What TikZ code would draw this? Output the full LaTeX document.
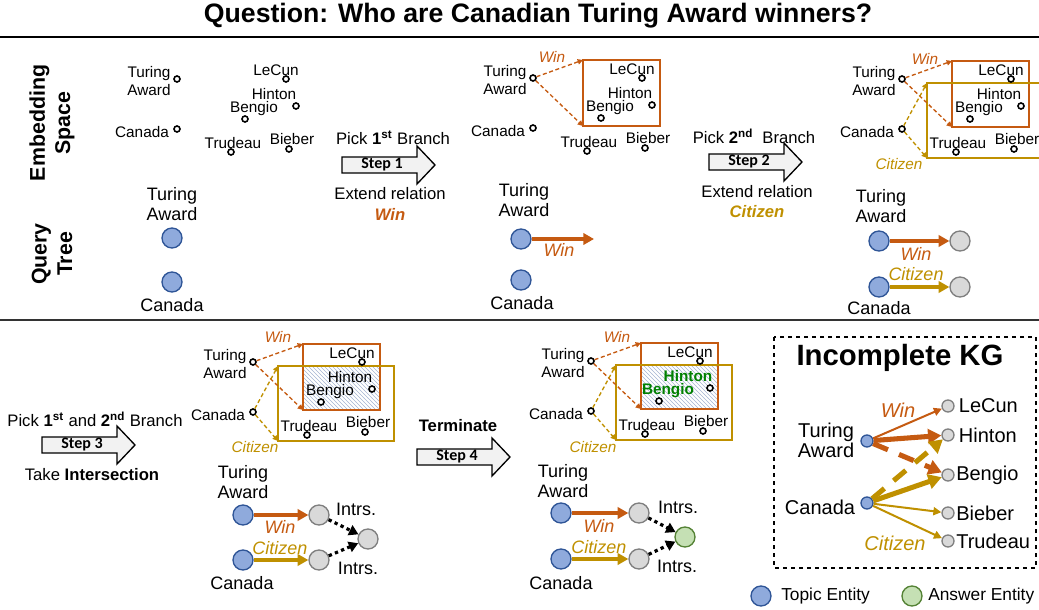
\documentclass[tikz,border=0pt]{standalone}
\usepackage{fontspec}
\setmainfont{Liberation Sans}
\newfontfamily\stepfont{Carlito}
\usetikzlibrary{arrows.meta,patterns,positioning,backgrounds}

\definecolor{winc}{RGB}{197,90,17}
\definecolor{citc}{RGB}{191,144,0}
\definecolor{topicfill}{RGB}{143,170,220}
\definecolor{topicline}{RGB}{47,85,151}
\definecolor{varfill}{RGB}{217,217,217}
\definecolor{varline}{RGB}{127,127,127}
\definecolor{ansfill}{RGB}{197,224,180}
\definecolor{ansline}{RGB}{84,130,53}
\definecolor{anstext}{RGB}{0,128,0}
\definecolor{hatchc}{RGB}{165,180,210}
\definecolor{stepfill}{RGB}{242,242,242}

\tikzset{
  emb/.style={font=\fontsize{11.5}{14}\selectfont, inner sep=0pt, align=center},
  ans/.style={emb, font=\fontsize{11.5}{14}\selectfont\bfseries, text=anstext},
  edot/.style={circle, draw, line width=1.2pt, fill=white, inner sep=0pt, minimum size=4.5pt},
  qlab/.style={font=\fontsize{13.5}{15}\selectfont, inner sep=0pt, align=center},
  topic/.style={circle, draw=topicline, fill=topicfill, line width=1pt, inner sep=0pt, minimum size=15pt},
  var/.style={topic, draw=varline, fill=varfill},
  answer/.style={topic, draw=ansline, fill=ansfill},
  winarr/.style={draw=winc, line width=2.6pt, -{Triangle[length=8pt,width=8.5pt]}},
  citarr/.style={winarr, draw=citc},
  intarr/.style={draw=black, line width=2.4pt, dash pattern=on 2.5pt off 2.5pt, -{Triangle[length=7pt,width=8pt]}},
  windash/.style={draw=winc, line width=1pt, dash pattern=on 3pt off 2pt, -{Triangle[length=4pt,width=4pt]}},
  citdash/.style={windash, draw=citc},
  winbox/.style={draw=winc, line width=1.5pt},
  citbox/.style={draw=citc, line width=1.5pt},
  wlab/.style={font=\fontsize{11.5}{12}\selectfont\itshape, text=winc, inner sep=0pt},
  clab/.style={wlab, text=citc},
  qwin/.style={font=\fontsize{13.5}{15}\selectfont\itshape, text=winc, inner sep=0pt},
  qcit/.style={qwin, text=citc},
  stepbox/.style={draw, line width=1pt, fill=stepfill},
  steptext/.style={font=\stepfont\bfseries\fontsize{12}{12}\selectfont, inner sep=0pt},
  note/.style={font=\fontsize{12.5}{14}\selectfont, inner sep=0pt, align=center},
  side/.style={font=\fontsize{16}{19}\selectfont\bfseries, rotate=90, align=center, inner sep=0pt},
  kglab/.style={font=\fontsize{15}{13}\selectfont, inner sep=0pt, align=center},
  kgnode/.style={topic, minimum size=9pt},
  kgvar/.style={var, minimum size=9pt},
  kgthin/.style={line width=1.5pt, -{Triangle[length=6pt,width=6pt]}},
  kgthick/.style={line width=3.8pt, -{Triangle[length=10pt,width=11pt]}},
}

\begin{document}
\begin{tikzpicture}[x=0.75pt, y=-0.75pt]
  \useasboundingbox (0,0) rectangle (1039,610);

  % title and separators
  \node[font=\fontsize{20}{22}\selectfont\bfseries] (title) at (538,16) {Question: Who are Canadian Turing Award winners?};
  \draw[line width=1.5pt] (0,37) -- (1039,37);
  \draw[line width=1.5pt, black!80] (0,320) -- (1039,320);
  \node[side] (embspace) at (52,123) {Embedding\\Space};
  \node[side] (qtree) at (52,254) {Query\\Tree};

  % embedding spaces, one per step
  \foreach \p/\x/\y/\lv in {a/177/79/0, b/533/78/1, c/902/79/2, d/253/362/3, e/591/361/4}{
    \begin{scope}[shift={(\x,\y)}]
      \ifnum\lv=4 \def\hst{ans}\else\def\hst{emb}\fi
      \ifnum\lv>2
        \begin{pgfonlayer}{background}
          \fill[pattern=north west lines, pattern color=hatchc] (50,4) rectangle (127,48);
        \end{pgfonlayer}
      \fi
      \ifnum\lv>0
        \begin{pgfonlayer}{background}
          \draw[winbox] (50,-18) rectangle (127,48);
        \end{pgfonlayer}
      \fi
      \ifnum\lv>1
        \begin{pgfonlayer}{background}
          \draw[citbox] (25,4) rectangle (141,79);
        \end{pgfonlayer}
      \fi
      \coordinate (\p-w1) at (50,-18);
      \coordinate (\p-w2) at (50,48);
      \coordinate (\p-c1) at (25,4);
      \coordinate (\p-c2) at (25,79);
      \node[edot] (\p-ta) at (0,0) {};
      \node[edot] (\p-ca) at (0,50) {};
      \node[edot] (\p-le) at (109,0) {};
      \node[edot] (\p-hi) at (119,27) {};
      \node[edot] (\p-be) at (68,40) {};
      \node[edot] (\p-tr) at (54,73) {};
      \node[edot] (\p-bi) at (112,70) {};
      \node[emb] (\p-tal) at (-28,2) {Turing\\Award};
      \node[emb] (\p-cal) at (-35,53) {Canada};
      \node[emb] (\p-lel) at (99,-9) {LeCun};
      \node[\hst] (\p-hil) at (97,15) {Hinton};
      \node[\hst] (\p-bel) at (77,30) {Bengio};
      \node[emb] (\p-trl) at (56,64) {Trudeau};
      \node[emb] (\p-bil) at (115,60) {Bieber};
    \end{scope}
  }
  \foreach \p in {b,c,d,e}{
    \draw[windash] (\p-ta) -- (\p-w1);
    \draw[windash] (\p-ta) -- (\p-w2);
  }
  \foreach \p in {c,d,e}{
    \draw[citdash] (\p-ca) -- (\p-c1);
    \draw[citdash] (\p-ca) -- (\p-c2);
  }
  \node[wlab] (b-win) at (552,57) {Win};
  \node[wlab] (c-win) at (925,59) {Win};
  \node[wlab] (d-win) at (278,337) {Win};
  \node[wlab] (e-win) at (617,337) {Win};
  \node[clab] (c-cit) at (899,164) {Citizen};
  \node[clab] (d-cit) at (255,447) {Citizen};
  \node[clab] (e-cit) at (593,447) {Citizen};

  % step arrows
  \foreach \s/\x/\y in {1/342/165, 2/709/162, 3/42/445, 4/417/457}{
    \draw[stepbox] (\x,\y) ++(0,-8) -- ++(75,0) -- ++(0,-11) -- ++(18,19) -- ++(-18,19) -- ++(0,-11) -- ++(-75,0) -- cycle;
    \node[steptext] (step\s) at ({\x+40},\y) {Step \s};
  }
  \node[note] (pick1) at (393,138) {Pick \textbf{1\textsuperscript{st}} Branch};
  \node[note] (ext1) at (390,194) {Extend relation};
  \node[note, font=\fontsize{12.5}{14}\selectfont\bfseries\itshape, text=winc] (rel1) at (390,214) {Win};
  \node[note] (pick2) at (754,136) {Pick \textbf{2\textsuperscript{nd}}\ \ Branch};
  \node[note] (ext2) at (757,192) {Extend relation};
  \node[note, font=\fontsize{12.5}{14}\selectfont\bfseries\itshape, text=citc] (rel2) at (757,212) {Citizen};
  \node[note] (pick3) at (95,419) {Pick \textbf{1\textsuperscript{st}} and \textbf{2\textsuperscript{nd}} Branch};
  \node[note] (take3) at (92,475) {Take \textbf{Intersection}};
  \node[note, font=\fontsize{12.5}{14}\selectfont\bfseries] (term4) at (458,426) {Terminate};

  % query trees
  \node[topic] (qa-ta) at (172,238) {};
  \node[topic] (qa-ca) at (172,282) {};
  \node[qlab] (qa-tal) at (172,204) {Turing\\Award};
  \node[qlab] (qa-cal) at (172,305) {Canada};

  \node[topic] (qb-ta) at (521,239) {};
  \node[topic] (qb-ca) at (521,280) {};
  \coordinate (qb-end) at (594,239);
  \draw[winarr] (qb-ta) -- (qb-end);
  \node[qlab] (qb-tal) at (524,200) {Turing\\Award};
  \node[qlab] (qb-cal) at (522,303) {Canada};
  \node[qwin] (qb-win) at (559,250) {Win};

  \node[topic] (qc-ta) at (879,241) {};
  \node[topic] (qc-ca) at (879,287) {};
  \node[var] (qc-tv) at (960,241) {};
  \node[var] (qc-cv) at (960,287) {};
  \draw[winarr] (qc-ta) -- (qc-tv);
  \draw[citarr] (qc-ca) -- (qc-cv);
  \node[qlab] (qc-tal) at (881,206) {Turing\\Award};
  \node[qlab] (qc-cal) at (879,308) {Canada};
  \node[qwin] (qc-win) at (916,254) {Win};
  \node[qcit] (qc-cit) at (916,274) {Citizen};

  \node[topic] (qd-ta) at (243,515) {};
  \node[topic] (qd-ca) at (243,560) {};
  \node[var] (qd-tv) at (319,515) {};
  \node[var] (qd-cv) at (319,560) {};
  \node[var] (qd-f) at (368,539) {};
  \draw[winarr] (qd-ta) -- (qd-tv);
  \draw[citarr] (qd-ca) -- (qd-cv);
  \draw[intarr] (qd-tv) -- (qd-f);
  \draw[intarr] (qd-cv) -- (qd-f);
  \node[qlab] (qd-tal) at (243,482) {Turing\\Award};
  \node[qlab] (qd-cal) at (242,583) {Canada};
  \node[qwin] (qd-win) at (280,527) {Win};
  \node[qcit] (qd-cit) at (280,548) {Citizen};
  \node[qlab] (qd-i1) at (356,509) {Intrs.};
  \node[qlab] (qd-i2) at (358,568) {Intrs.};

  \node[topic] (qe-ta) at (561,513) {};
  \node[topic] (qe-ca) at (561,559) {};
  \node[var] (qe-tv) at (639,513) {};
  \node[var] (qe-cv) at (639,559) {};
  \node[answer] (qe-f) at (685,537) {};
  \draw[winarr] (qe-ta) -- (qe-tv);
  \draw[citarr] (qe-ca) -- (qe-cv);
  \draw[intarr] (qe-tv) -- (qe-f);
  \draw[intarr] (qe-cv) -- (qe-f);
  \node[qlab] (qe-tal) at (563,481) {Turing\\Award};
  \node[qlab] (qe-cal) at (561,583) {Canada};
  \node[qwin] (qe-win) at (599,526) {Win};
  \node[qcit] (qe-cit) at (599,547) {Citizen};
  \node[qlab] (qe-i1) at (678,507) {Intrs.};
  \node[qlab] (qe-i2) at (677,566) {Intrs.};

  % incomplete KG
  \draw[line width=1pt, dashed] (774,337) rectangle (1036,568);
  \node[font=\fontsize{22}{24}\selectfont\bfseries] (kgtitle) at (900,358) {Incomplete KG};
  \node[kgnode] (kg-ta) at (867,441) {};
  \node[kgnode] (kg-ca) at (867,503) {};
  \node[kgvar] (kg-le) at (948,406) {};
  \node[kgvar] (kg-hi) at (948,435) {};
  \node[kgvar] (kg-be) at (948,475) {};
  \node[kgvar] (kg-bi) at (948,513) {};
  \node[kgvar] (kg-tr) at (948,541) {};
  \node[kglab] (kg-tal) at (826,440) {Turing\\Award};
  \node[kglab] (kg-cal) at (820,507) {Canada};
  \node[kglab, right=3pt of kg-le] (kg-lel) {LeCun};
  \node[kglab, right=3pt of kg-hi] (kg-hil) {Hinton};
  \node[kglab, right=1pt of kg-be] (kg-bel) {Bengio};
  \node[kglab, right=1pt of kg-bi] (kg-bil) {Bieber};
  \node[kglab, right=1pt of kg-tr] (kg-trl) {Trudeau};
  \draw[kgthin, winc] (kg-ta) -- (kg-le);
  \draw[kgthick, winc] (kg-ta) -- (kg-hi);
  \draw[kgthick, winc, dash pattern=on 12pt off 9pt] (kg-ta) -- (kg-be);
  \draw[kgthick, citc, dash pattern=on 12pt off 9pt] (kg-ca) -- (kg-hi);
  \draw[kgthick, citc] (kg-ca) -- (kg-be);
  \draw[kgthin, citc] (kg-ca) -- (kg-bi);
  \draw[kgthin, citc] (kg-ca) -- (kg-tr);
  \node[kglab, font=\fontsize{15}{15}\selectfont\itshape, text=winc] (kg-win) at (898,410) {Win};
  \node[kglab, font=\fontsize{15}{15}\selectfont\itshape, text=citc] (kg-cit) at (895,543) {Citizen};

  % legend
  \node[topic] (lg-topic) at (761,596) {};
  \node[qlab, font=\fontsize{13}{15}\selectfont, anchor=west] (lg-topicl) at (781,596) {Topic Entity};
  \node[answer] (lg-ans) at (912,596) {};
  \node[qlab, font=\fontsize{13}{15}\selectfont, anchor=west] (lg-ansl) at (928,596) {Answer Entity};
\end{tikzpicture}
\end{document}
